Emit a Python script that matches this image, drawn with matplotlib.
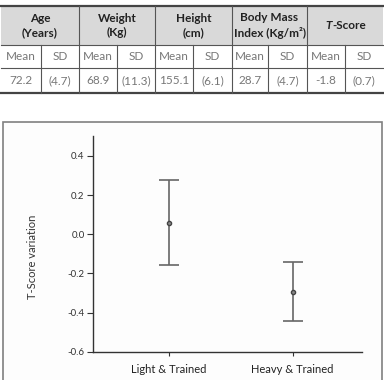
import matplotlib.pyplot as plt
from matplotlib.patches import Rectangle

plt.rcParams['font.family'] = ['Lato', 'DejaVu Sans']

# table contents
groups = ['Age\n(Years)', 'Weight\n(Kg)', 'Height\n(cm)', 'Body Mass\nIndex (Kg/m²)']
subheads = ['Mean', 'SD'] * 5
table_vals = ['72.2', '(4.7)', '68.9', '(11.3)', '155.1', '(6.1)', '28.7', '(4.7)', '-1.8', '(0.7)']

# chart data
categories = ['Light & Trained', 'Heavy & Trained']
means = [0.06, -0.295]
upper = [0.275, -0.14]
lower = [-0.155, -0.445]

W, H = 384, 380
fig = plt.figure(figsize=(W / 100, H / 100), dpi=100)

# overlay axes in pixel coordinates for the table and the frame
bg = fig.add_axes([0, 0, 1, 1])
bg.set_xlim(0, W)
bg.set_ylim(H, 0)
bg.axis('off')

col_edges = [1, 79, 155, 232, 307, 383]
sub_edges = [1, 41, 79, 117, 155, 193, 232, 268, 307, 345, 383]
row_y = [6, 45, 68, 93]
line_c = '#555555'

bg.add_patch(Rectangle((1, row_y[0]), 382, row_y[1] - row_y[0], facecolor='#d9d9d9', edgecolor='none'))
bg.plot([1, 383], [row_y[0], row_y[0]], color='#444444', lw=1.6)
bg.plot([1, 383], [row_y[1], row_y[1]], color=line_c, lw=0.8)
bg.plot([1, 383], [row_y[2], row_y[2]], color=line_c, lw=0.8)
bg.plot([1, 383], [row_y[3], row_y[3]], color='#444444', lw=1.6)
for x in col_edges[1:-1]:
    bg.plot([x, x], [row_y[0], row_y[3]], color=line_c, lw=0.8)
for x in sub_edges[1:-1]:
    if x not in col_edges:
        bg.plot([x, x], [row_y[1], row_y[3]], color=line_c, lw=0.8)

hy = (row_y[0] + row_y[1]) / 2
for i, g in enumerate(groups):
    xc = (col_edges[i] + col_edges[i + 1]) / 2
    bg.text(xc, hy, g, ha='center', va='center',
            fontsize=8.5, fontweight='bold', color='#222222', linespacing=1.35)
# T-Score header with italic T
bg.text(332, hy, 'T', ha='right', va='center', fontsize=8.5, fontweight='bold',
        fontstyle='italic', color='#222222')
bg.text(332, hy, '-Score', ha='left', va='center', fontsize=8.5, fontweight='bold', color='#222222')

for i, (s, v) in enumerate(zip(subheads, table_vals)):
    xc = (sub_edges[i] + sub_edges[i + 1]) / 2
    bg.text(xc, (row_y[1] + row_y[2]) / 2, s, ha='center', va='center',
            fontsize=8.5, color='#777777')
    bg.text(xc, (row_y[2] + row_y[3]) / 2, v, ha='center', va='center',
            fontsize=8.5, color='#777777')

# frame around the chart
bg.add_patch(Rectangle((3, 122), 379, 262, facecolor='#fdfdfd', edgecolor='#808080', lw=1.2))

# chart
ax = fig.add_axes([93 / W, (H - 351.7) / H, (362 - 93) / W, (351.7 - 136) / H])
ax.patch.set_alpha(0)
x = range(len(categories))
err = [[m - lo for m, lo in zip(means, lower)], [up - m for m, up in zip(means, upper)]]
ax.errorbar(x, means, yerr=err, fmt='o', color='#555555', ecolor='#666666',
            markersize=3, markerfacecolor='#888888', markeredgecolor='#444444',
            elinewidth=1.2, capsize=7, capthick=1.2)

ax.set_xlim(-0.61, 1.56)
ax.set_ylim(-0.6, 0.502)
ax.set_yticks([-0.6, -0.4, -0.2, 0.0, 0.2, 0.4])
ax.set_yticklabels(['-0.6', '-0.4', '-0.2', '0.0', '0.2', '0.4'])
ax.set_xticks(list(x))
ax.set_xticklabels(categories)
ax.spines['top'].set_visible(False)
ax.spines['right'].set_visible(False)
for s in ['left', 'bottom']:
    ax.spines[s].set_color('#333333')
    ax.spines[s].set_linewidth(1.0)
ax.tick_params(axis='y', length=4, width=0.8, color='#333333', labelsize=7, labelcolor='#333333', pad=2)
ax.tick_params(axis='x', length=3, width=0.8, color='#333333', labelsize=8, labelcolor='#222222', pad=6)
ax.set_ylabel('T-Score variation', fontsize=8, color='#333333')
ax.yaxis.set_label_coords(-0.205, 0.44)

fig.savefig('out.png', dpi=100)
